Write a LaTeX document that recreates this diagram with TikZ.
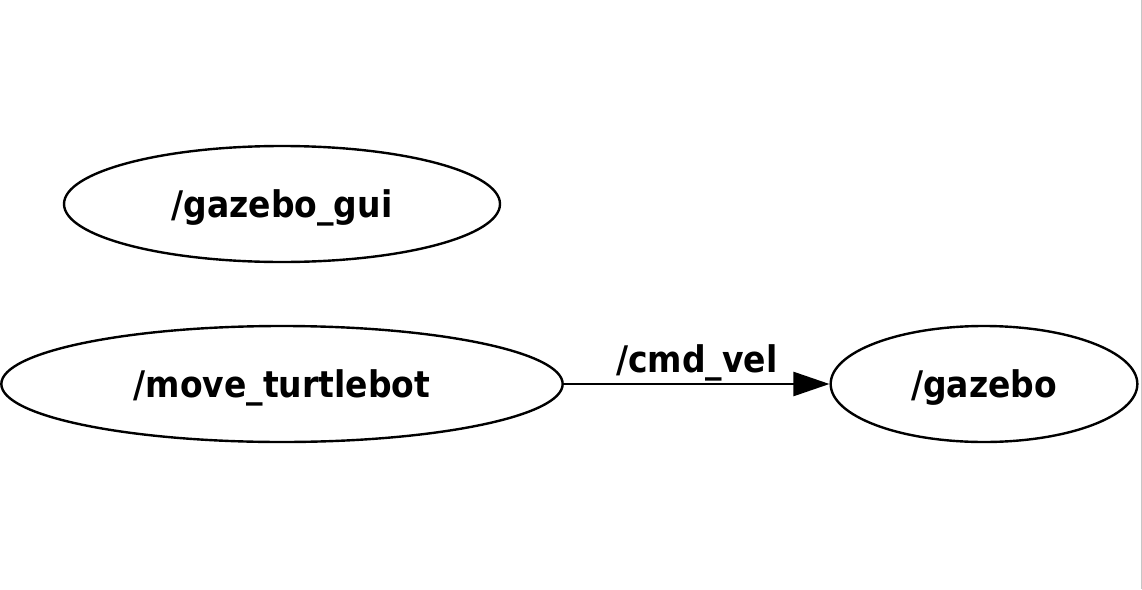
\documentclass[tikz,border=0pt]{standalone}
\usepackage{fontspec}
\setmainfont{DejaVu Sans Condensed}
\usetikzlibrary{arrows.meta}
\usetikzlibrary{shapes.geometric}

\begin{document}
\begin{tikzpicture}[x=0.75pt,y=-0.75pt,
        rosnode/.style={draw,ellipse,line width=1.8pt,inner sep=0pt,minimum height=87pt,text depth=0pt,font=\fontsize{27.5}{30}\selectfont\bfseries},
        topic/.style={font=\fontsize{27.5}{30}\selectfont\bfseries}]
                \useasboundingbox (0,0) rectangle (1142,589);
                \draw[gray!45,line width=0.75pt] (1141,0) -- (1141,589);

                \node[rosnode,minimum width=327pt] (gazebogui) at (282,204) {/gazebo\_gui};
                \node[rosnode,minimum width=421pt] (moveturtlebot) at (282,384) {/move\_turtlebot};
                \node[rosnode,minimum width=230pt] (gazebo) at (984,384) {/gazebo};

                \draw[-{Triangle[length=27pt,width=18pt]},line width=1.8pt] (moveturtlebot) to node[topic,above=-2pt] {/cmd\_vel} (gazebo);
            \end{tikzpicture}
\end{document}
